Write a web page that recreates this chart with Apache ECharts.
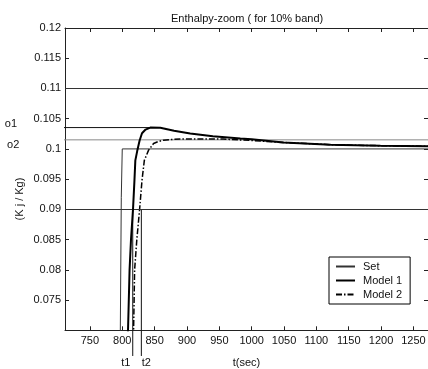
<!DOCTYPE html>
<html>
<head>
<meta charset="utf-8">
<script src="https://cdn.jsdelivr.net/npm/echarts@6/dist/echarts.min.js"></script>
<style>html,body{margin:0;padding:0;background:#fff}#c{width:428px;height:369px}</style>
</head>
<body>
<div id="c"></div>
<script>
// ---- data ----
const xTicks = [750, 800, 850, 900, 950, 1000, 1050, 1100, 1150, 1200, 1250];
const yTicks = [0.075, 0.08, 0.085, 0.09, 0.095, 0.1, 0.105, 0.11, 0.115, 0.12];
const setT = [790, 797, 798.5, 800, 1280];
const setV = [0.05, 0.07, 0.092, 0.1, 0.1];
const m1T = [805, 808.9, 811.3, 813.5, 816.6, 818.7, 820.2, 823, 826.8, 830.5, 836, 843.3, 858.8, 880, 905, 940, 982.5, 1000, 1049, 1122, 1199, 1273];
const m1V = [0.065, 0.07, 0.08, 0.085, 0.09, 0.0945, 0.0981, 0.0996, 0.1014, 0.1026, 0.1032, 0.10353, 0.1035, 0.1030, 0.10254, 0.1021, 0.10172, 0.1016, 0.10106, 0.1007, 0.10053, 0.10045];
const m2T = [815, 817.5, 819.1, 822.5, 826.8, 830.5, 834.1, 840.7, 848.4, 855, 863.4, 880, 897.4, 956, 1000, 1049, 1122, 1199, 1273];
const m2V = [0.065, 0.07, 0.08, 0.085, 0.09, 0.0948, 0.0981, 0.0998, 0.1009, 0.1012, 0.10144, 0.1016, 0.10165, 0.10163, 0.1014, 0.10106, 0.1007, 0.10053, 0.10045];
const bandLevels = [0.11, 0.09];
const o1 = 0.10353, o2 = 0.1015;
const o1Span = [642, 843.3];
const o2Span = [645.5, 1272.5];
const t1 = 816.2, t2 = 829.5;
const tLineSpan = [0.09, 0.06575];
const xRange = [711.5, 1272.5];
const yRange = [0.07, 0.12];

const pair = (a, b) => a.map((v, i) => [v, b[i]]);
const font = 'Liberation Sans, Arial, sans-serif';
const axisCol = '#222';

const chart = echarts.init(document.getElementById('c'), null, {renderer: 'canvas', width: 428, height: 369});

function helperLine(name, pts, color, width, lab, labOpt) {
  const data = pts.map((p, i) => {
    const d = {value: p};
    if (lab && i === labOpt.idx) {
      d.label = Object.assign({show: true, formatter: lab, color: '#111', fontFamily: font, fontSize: 11}, labOpt.label);
    }
    return d;
  });
  return {
    name: name, type: 'line', data: data, clip: false, silent: true,
    symbol: 'circle', symbolSize: 0, showSymbol: true,
    lineStyle: {color: color, width: width}, itemStyle: {color: color},
    animation: false, z: 1
  };
}

const option = {
  animation: false,
  backgroundColor: '#fff',
  title: {
    text: 'Enthalpy-zoom ( for 10% band)', left: 166, top: 8,
    textStyle: {fontFamily: font, fontSize: 11, fontWeight: 'normal', color: '#111'}
  },
  grid: {left: 65, right: 0, top: 28, bottom: 38.7, containLabel: false, outerBoundsMode: 'none'},
  legend: {
    orient: 'vertical', left: 329, top: 257,
    padding: [4, 8, 4, 6], itemGap: 3, itemWidth: 19, itemHeight: 11,
    borderColor: '#000', borderWidth: 1, backgroundColor: '#fff',
    itemStyle: {opacity: 0, borderWidth: 0},
    textStyle: {fontFamily: font, fontSize: 11, color: '#111', padding: [0, 0, 0, 3]},
    data: ['Set', 'Model 1', 'Model 2']
  },
  xAxis: [{
    type: 'value', min: xRange[0], max: xRange[1], position: 'bottom',
    axisLine: {show: true, lineStyle: {color: axisCol, width: 1}},
    axisTick: {show: true, inside: true, length: 4, customValues: xTicks, lineStyle: {color: axisCol}},
    axisLabel: {show: true, customValues: xTicks, margin: 5, color: '#111', fontFamily: font, fontSize: 11,
      formatter: v => String(v)},
    splitLine: {show: false},
    name: 't(sec)', nameLocation: 'middle', nameGap: 27,
    nameTextStyle: {fontFamily: font, fontSize: 11, color: '#111'}
  }, {
    type: 'value', min: xRange[0], max: xRange[1], position: 'top',
    axisLine: {show: true, lineStyle: {color: axisCol, width: 1}},
    axisTick: {show: true, inside: true, length: 4, customValues: xTicks, lineStyle: {color: axisCol}},
    axisLabel: {show: false}, splitLine: {show: false}
  }],
  yAxis: [{
    type: 'value', min: yRange[0], max: yRange[1], position: 'left',
    axisLine: {show: true, lineStyle: {color: axisCol, width: 1}},
    axisTick: {show: true, inside: true, length: 4, customValues: yTicks, lineStyle: {color: axisCol}},
    axisLabel: {show: true, customValues: yTicks, margin: 4, color: '#111', fontFamily: font, fontSize: 11,
      formatter: v => String(+v.toFixed(3))},
    splitLine: {show: false}
  }, {
    type: 'value', min: yRange[0], max: yRange[1], position: 'right',
    axisLine: {show: true, lineStyle: {color: axisCol, width: 1}},
    axisTick: {show: true, inside: true, length: 4, customValues: yTicks, lineStyle: {color: axisCol}},
    axisLabel: {show: false}, splitLine: {show: false}
  }],
  series: [
    {
      name: 'Set', type: 'line', data: pair(setT, setV), showSymbol: false, symbol: 'none', clip: true,
      lineStyle: {color: '#333', width: 1}, itemStyle: {color: '#333'}, z: 3,
      markLine: {
        silent: true, symbol: 'none', label: {show: false},
        lineStyle: {color: '#333', width: 1, type: 'solid'},
        data: bandLevels.map(v => ({yAxis: v}))
      }
    },
    {
      name: 'Model 1', type: 'line', data: pair(m1T, m1V), showSymbol: false, symbol: 'none', clip: true,
      lineStyle: {color: '#000', width: 2}, itemStyle: {color: '#000'}, z: 5
    },
    {
      name: 'Model 2', type: 'line', data: pair(m2T, m2V), showSymbol: false, symbol: 'none', clip: true,
      lineStyle: {color: '#000', width: 1.5, type: [6, 2, 1.5, 2]}, itemStyle: {color: '#000'}, z: 4
    },
    helperLine('o1line', [[o1Span[0], o1], [o1Span[1], o1]], '#111', 1, 'o1',
      {idx: 0, label: {position: 'left', distance: 3, offset: [0, -4]}}),
    helperLine('o2line', [[o2Span[0], o2], [o2Span[1], o2]], '#888', 1, 'o2',
      {idx: 0, label: {position: 'left', distance: 3, offset: [0, 5]}}),
    helperLine('t1line', [[t1, tLineSpan[0]], [t1, tLineSpan[1]]], '#111', 1, 't1',
      {idx: 1, label: {position: 'bottom', distance: 1, offset: [-7, 0]}}),
    helperLine('t2line', [[t2, tLineSpan[0]], [t2, tLineSpan[1]]], '#111', 1, 't2',
      {idx: 1, label: {position: 'bottom', distance: 1, offset: [5, 0]}})
  ],
  graphic: [{
    type: 'text', x: 20, y: 199, rotation: Math.PI / 2, silent: true,
    style: {text: '(K j / Kg)', fontFamily: font, fontSize: 11, fill: '#111', align: 'center', verticalAlign: 'middle'}
  }]
};
chart.setOption(option);
</script>
</body>
</html>
